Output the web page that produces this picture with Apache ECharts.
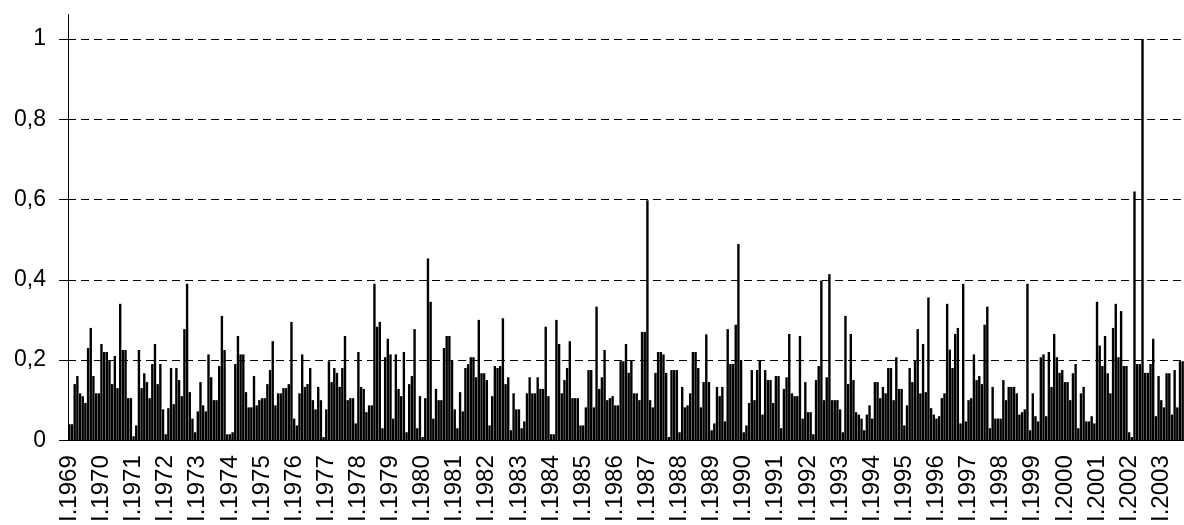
<!DOCTYPE html>
<html>
<head>
<meta charset="utf-8">
<title>Monthly series 1969-2003</title>
<script src="https://cdn.jsdelivr.net/npm/echarts@6/dist/echarts.min.js"></script>
<style>
    html, body { margin: 0; padding: 0; background: #fff; }
    #chart { width: 1184px; height: 525px; }
</style>
</head>
<body>
<div id="chart"></div>
<script>
// first year on the axis, months run I..XII
const startYear = 1969;
const monthNames = ['I', 'II', 'III', 'IV', 'V', 'VI', 'VII', 'VIII', 'IX', 'X', 'XI', 'XII'];

// y axis ticks
const yTicks = [0, 0.2, 0.4, 0.6, 0.8, 1];

// monthly values, one row per year
const values = [
    0.04, 0.04, 0.14, 0.16, 0.117, 0.11, 0.093, 0.23, 0.28, 0.16, 0.117, 0.117,
    0.24, 0.22, 0.22, 0.2, 0.14, 0.21, 0.13, 0.34, 0.225, 0.225, 0.105, 0.105,
    0.01, 0.037, 0.225, 0.13, 0.167, 0.145, 0.105, 0.19, 0.24, 0.14, 0.19, 0.077,
    0.015, 0.08, 0.18, 0.09, 0.18, 0.15, 0.11, 0.277, 0.39, 0.12, 0.054, 0.02,
    0.072, 0.145, 0.087, 0.072, 0.214, 0.157, 0.1, 0.1, 0.185, 0.31, 0.225, 0.015,
    0.015, 0.02, 0.19, 0.26, 0.214, 0.214, 0.12, 0.082, 0.082, 0.16, 0.087, 0.1,
    0.105, 0.105, 0.14, 0.175, 0.247, 0.087, 0.117, 0.117, 0.13, 0.13, 0.14, 0.295,
    0.054, 0.037, 0.117, 0.214, 0.133, 0.14, 0.18, 0.1, 0.077, 0.133, 0.1, 0.008,
    0.077, 0.197, 0.145, 0.18, 0.168, 0.133, 0.18, 0.26, 0.1, 0.105, 0.105, 0.042,
    0.22, 0.133, 0.128, 0.07, 0.087, 0.087, 0.39, 0.283, 0.295, 0.03, 0.207, 0.253,
    0.214, 0.054, 0.214, 0.128, 0.11, 0.22, 0.02, 0.14, 0.16, 0.277, 0.03, 0.11,
    0.008, 0.105, 0.453, 0.345, 0.054, 0.128, 0.1, 0.1, 0.23, 0.26, 0.26, 0.2,
    0.077, 0.03, 0.12, 0.072, 0.18, 0.19, 0.207, 0.207, 0.157, 0.3, 0.167, 0.167,
    0.15, 0.037, 0.11, 0.185, 0.18, 0.185, 0.304, 0.14, 0.157, 0.025, 0.117, 0.077,
    0.077, 0.03, 0.047, 0.117, 0.157, 0.117, 0.117, 0.157, 0.128, 0.128, 0.283, 0.11,
    0.015, 0.015, 0.3, 0.24, 0.117, 0.15, 0.18, 0.247, 0.105, 0.105, 0.105, 0.037,
    0.037, 0.082, 0.175, 0.175, 0.082, 0.333, 0.128, 0.157, 0.225, 0.1, 0.105, 0.11,
    0.087, 0.087, 0.197, 0.197, 0.24, 0.168, 0.2, 0.117, 0.117, 0.1, 0.27, 0.27,
    0.598, 0.1, 0.082, 0.168, 0.22, 0.22, 0.214, 0.168, 0.008, 0.175, 0.175, 0.175,
    0.02, 0.133, 0.082, 0.087, 0.117, 0.22, 0.22, 0.18, 0.082, 0.145, 0.264, 0.145,
    0.025, 0.042, 0.133, 0.11, 0.133, 0.047, 0.277, 0.19, 0.19, 0.288, 0.489, 0.2,
    0.02, 0.037, 0.093, 0.175, 0.1, 0.175, 0.2, 0.064, 0.175, 0.15, 0.15, 0.093,
    0.16, 0.16, 0.03, 0.128, 0.157, 0.265, 0.117, 0.11, 0.11, 0.26, 0.054, 0.145,
    0.07, 0.07, 0.015, 0.15, 0.185, 0.398, 0.1, 0.157, 0.414, 0.1, 0.1, 0.1,
    0.077, 0.02, 0.31, 0.14, 0.265, 0.15, 0.07, 0.064, 0.054, 0.025, 0.064, 0.087,
    0.054, 0.145, 0.145, 0.105, 0.133, 0.117, 0.18, 0.18, 0.1, 0.207, 0.128, 0.128,
    0.037, 0.087, 0.18, 0.145, 0.2, 0.277, 0.117, 0.24, 0.12, 0.356, 0.08, 0.064,
    0.054, 0.06, 0.105, 0.117, 0.34, 0.226, 0.18, 0.265, 0.28, 0.042, 0.39, 0.047,
    0.1, 0.105, 0.214, 0.15, 0.16, 0.14, 0.288, 0.333, 0.03, 0.133, 0.054, 0.054,
    0.054, 0.15, 0.1, 0.133, 0.133, 0.133, 0.117, 0.064, 0.07, 0.077, 0.39, 0.025,
    0.117, 0.06, 0.047, 0.207, 0.214, 0.06, 0.22, 0.133, 0.265, 0.207, 0.168, 0.175,
    0.145, 0.145, 0.1, 0.167, 0.19, 0.03, 0.117, 0.133, 0.047, 0.047, 0.06, 0.042,
    0.345, 0.236, 0.185, 0.26, 0.167, 0.117, 0.28, 0.34, 0.207, 0.322, 0.185, 0.185,
    0.02, 0.008, 0.62, 0.19, 0.19, 1.0, 0.168, 0.168, 0.19, 0.253, 0.06, 0.16,
    0.1, 0.082, 0.167, 0.167, 0.064, 0.175, 0.082, 0.197, 0.197
];

// category labels "I.1969", "II.1969", ...
const categories = values.map((v, i) => {
    return monthNames[i % 12] + '.' + (startYear + Math.floor(i / 12));
});

document.addEventListener('DOMContentLoaded', function() {
    initChart();
});

function initChart() {
    const chart = echarts.init(document.getElementById('chart'), null, { renderer: 'canvas' });

    const option = {
        animation: false,
        backgroundColor: '#fff',
        grid: {
            left: 68,
            right: 0,
            top: 39,
            bottom: 83
        },
        xAxis: {
            type: 'category',
            data: categories,
            boundaryGap: true,
            axisLine: { lineStyle: { color: '#000', width: 1 } },
            axisTick: {
                interval: 0,
                length: 6,
                lineStyle: { color: '#8a8a8a', width: 1 }
            },
            axisLabel: {
                interval: 11,
                rotate: 90,
                margin: 15,
                color: '#000',
                fontFamily: 'Liberation Sans, Arial, sans-serif',
                fontSize: 24
            },
            splitLine: { show: false }
        },
        yAxis: {
            type: 'value',
            min: yTicks[0],
            max: yTicks[yTicks.length - 1],
            interval: 0.2,
            axisLine: { show: true, lineStyle: { color: '#000', width: 1 } },
            axisTick: { show: true, length: 9, lineStyle: { color: '#000' } },
            axisLabel: {
                margin: 22,
                color: '#000',
                fontFamily: 'Liberation Sans, Arial, sans-serif',
                fontSize: 23,
                formatter: function(v) {
                    return String(Math.round(v * 10) / 10).replace('.', ',');
                }
            },
            splitLine: {
                show: true,
                lineStyle: { color: '#000', type: [8, 5], width: 1 }
            }
        },
        // axis line runs a bit above the top gridline
        graphic: [{
            type: 'line',
            shape: { x1: 68.5, y1: 14, x2: 68.5, y2: 39 },
            style: { stroke: '#000', lineWidth: 1 }
        }],
        series: [{
            type: 'bar',
            data: values,
            barWidth: 2.4,
            large: false,
            itemStyle: { color: '#000' },
            emphasis: { disabled: true }
        }]
    };

    chart.setOption(option);
}
</script>
</body>
</html>
